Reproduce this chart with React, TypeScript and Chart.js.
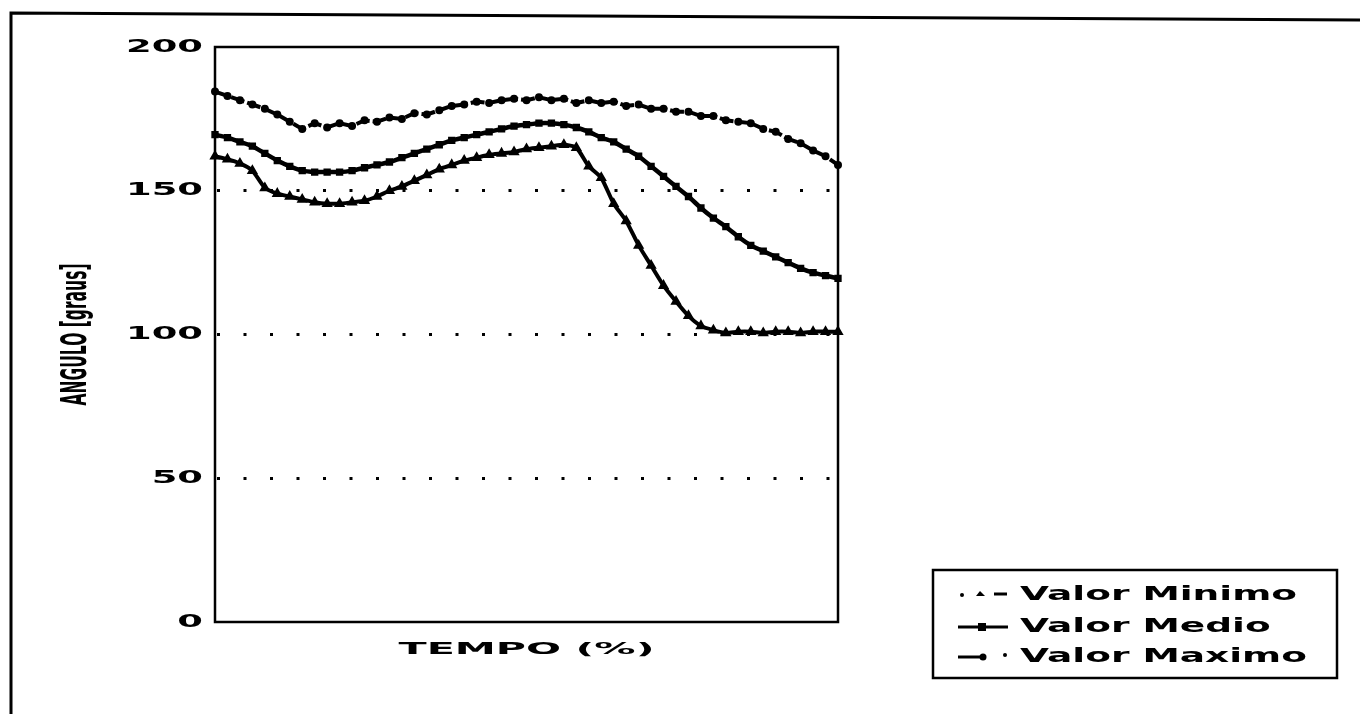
import React, { useEffect, useRef } from "react";
import { Chart, registerables } from "chart.js";

Chart.register(...registerables);

// ---- data ----
const TEMPO = [
  0, 2, 4, 6, 8, 10, 12, 14, 16, 18,
  20, 22, 24, 26, 28, 30, 32, 34, 36, 38,
  40, 42, 44, 46, 48, 50, 52, 54, 56, 58,
  60, 62, 64, 66, 68, 70, 72, 74, 76, 78,
  80, 82, 84, 86, 88, 90, 92, 94, 96, 98, 100,
];

const VALOR_MINIMO = [
  162, 161, 159.5, 157, 151, 149, 148, 147, 146, 145.5,
  145.5, 146, 146.5, 148, 150, 151.5, 153.5, 155.5, 157.5, 159,
  160.5, 161.5, 162.5, 163, 163.5, 164.5, 165, 165.5, 166, 165,
  158.5, 154.5, 145.5, 139.5, 131, 124, 117, 111.5, 106.5, 103,
  101.5, 100.5, 101, 101, 100.5, 101, 101, 100.5, 101, 101, 101,
];

const VALOR_MEDIO = [
  169.5, 168.5, 167, 165.5, 163, 160.5, 158.5, 157, 156.5, 156.5,
  156.5, 157, 158, 159, 160, 161.5, 163, 164.5, 166, 167.5,
  168.5, 169.5, 170.5, 171.5, 172.5, 173, 173.5, 173.5, 173, 172,
  170.5, 168.5, 167, 164.5, 162, 158.5, 155, 151.5, 148, 144,
  140.5, 137.5, 134, 131, 129, 127, 125, 123, 121.5, 120.5, 119.5,
];

const VALOR_MAXIMO = [
  184.5, 183, 181.5, 180, 178.5, 176.5, 174, 171.5, 173.5, 172,
  173.5, 172.5, 174.5, 174, 175.5, 175, 177, 176.5, 178, 179.5,
  180, 181, 180.5, 181.5, 182, 181.5, 182.5, 181.5, 182, 180.5,
  181.5, 180.5, 181, 179.5, 180, 178.5, 178.5, 177.5, 177.5, 176,
  176, 174.5, 174, 173.5, 171.5, 170.5, 168, 166.5, 164, 162, 159,
];

const Y_TICKS = [0, 50, 100, 150, 200];
const SERIES_LABELS = ["Valor Minimo", "Valor Medio", "Valor Maximo"];
const Y_TITLE = "ANGULO [graus]";
const X_TITLE = "TEMPO (%)";

function drawScaledText(
  ctx: CanvasRenderingContext2D,
  text: string,
  x: number,
  y: number,
  font: string,
  sx: number,
  align: CanvasTextAlign
) {
  ctx.save();
  ctx.font = font;
  ctx.textBaseline = "middle";
  ctx.textAlign = align;
  ctx.translate(x, y);
  ctx.scale(sx, 1);
  ctx.fillText(text, 0, 0);
  ctx.restore();
}

const decorPlugin = {
  id: "decor",
  afterDraw(chart: any) {
    const { ctx, chartArea: a, scales } = chart;
    const ys = scales.y;
    ctx.save();
    ctx.fillStyle = "#000";
    ctx.strokeStyle = "#000";

    // outer page frame
    ctx.lineWidth = 3;
    ctx.beginPath();
    ctx.moveTo(11, 714);
    ctx.lineTo(11, 13);
    ctx.lineTo(1360, 20);
    ctx.stroke();

    // plot box
    ctx.lineWidth = 2.5;
    ctx.strokeRect(a.left, a.top, a.right - a.left, a.bottom - a.top);

    // y tick labels (wide bold)
    for (const v of Y_TICKS) {
      const y = ys.getPixelForValue(v);
      drawScaledText(ctx, String(v), a.left - 12, y, 'bold 18px "DejaVu Sans"', 2.05, "right");
    }

    // y title (condensed, rotated)
    ctx.save();
    ctx.font = 'bold 36px "DejaVu Sans Condensed"';
    const wY = ctx.measureText(Y_TITLE).width;
    ctx.translate(77, (a.top + a.bottom) / 2);
    ctx.rotate(-Math.PI / 2);
    ctx.scale(142 / wY, 1);
    ctx.textAlign = "center";
    ctx.textBaseline = "middle";
    ctx.fillText(Y_TITLE, 0, 0);
    ctx.restore();

    // x title (wide bold)
    ctx.font = 'bold 15px "DejaVu Sans"';
    const wX = ctx.measureText(X_TITLE).width;
    drawScaledText(ctx, X_TITLE, (a.left + a.right) / 2, 650, 'bold 15px "DejaVu Sans"', 256 / wX, "center");

    // legend
    const lx = 933, ly = 570, lw = 404, lh = 108;
    ctx.lineWidth = 2.5;
    ctx.strokeRect(lx, ly, lw, lh);
    const rows = [595, 627, 657];
    ctx.font = 'bold 20px "DejaVu Sans"';
    const sxL = 277 / ctx.measureText(SERIES_LABELS[0]).width;
    const labels = chart.data.datasets.map((d: any) => d.label);
    labels.forEach((lab: string, i: number) => {
      const y = rows[i];
      ctx.lineWidth = 3;
      if (i === 0) {
        ctx.beginPath();
        ctx.arc(962, y, 2, 0, Math.PI * 2);
        ctx.fill();
        ctx.beginPath();
        ctx.moveTo(976, y + 1);
        ctx.lineTo(980, y - 4);
        ctx.lineTo(985, y + 1);
        ctx.closePath();
        ctx.fill();
        ctx.beginPath();
        ctx.moveTo(994, y - 1);
        ctx.lineTo(1007, y - 1);
        ctx.stroke();
      } else if (i === 1) {
        ctx.beginPath();
        ctx.moveTo(958, y);
        ctx.lineTo(1008, y);
        ctx.stroke();
        ctx.fillRect(978, y - 4, 8, 8);
      } else {
        ctx.beginPath();
        ctx.moveTo(958, y);
        ctx.lineTo(982, y);
        ctx.stroke();
        ctx.beginPath();
        ctx.arc(983, y, 3.5, 0, Math.PI * 2);
        ctx.fill();
        ctx.beginPath();
        ctx.arc(1005, y - 2, 2, 0, Math.PI * 2);
        ctx.fill();
      }
      drawScaledText(ctx, lab, 1020, y, 'bold 20px "DejaVu Sans"', sxL, "left");
    });

    ctx.restore();
  },
};

export default function App() {
  const canvasRef = useRef<HTMLCanvasElement | null>(null);

  useEffect(() => {
    if (!canvasRef.current) return;
    const chart = new Chart(canvasRef.current, {
      type: "line",
      data: {
        labels: TEMPO,
        datasets: [
          {
            label: SERIES_LABELS[0],
            data: VALOR_MINIMO,
            borderColor: "#000",
            backgroundColor: "#000",
            borderWidth: 4,
            pointStyle: "triangle",
            pointRadius: 2.5,
            pointBackgroundColor: "#000",
            pointBorderColor: "#000",
            tension: 0.2,
          },
          {
            label: SERIES_LABELS[1],
            data: VALOR_MEDIO,
            borderColor: "#000",
            backgroundColor: "#000",
            borderWidth: 4.5,
            pointStyle: "rect",
            pointRadius: 2,
            pointBackgroundColor: "#000",
            pointBorderColor: "#000",
            tension: 0.2,
          },
          {
            label: SERIES_LABELS[2],
            data: VALOR_MAXIMO,
            borderColor: "#000",
            backgroundColor: "#000",
            borderWidth: 4,
            borderDash: [14, 3],
            pointStyle: "circle",
            pointRadius: 2,
            pointBackgroundColor: "#000",
            pointBorderColor: "#000",
            tension: 0,
          },
        ],
      },
      options: {
        responsive: false,
        animation: false,
        devicePixelRatio: 1,
        layout: { padding: { left: 0, top: 47, right: 522, bottom: 0 } },
        plugins: {
          legend: { display: false },
          tooltip: { enabled: false },
          title: { display: false },
        },
        scales: {
          x: {
            type: "category",
            ticks: { display: false },
            grid: { display: false },
            border: { display: false },
            afterFit: (scale: any) => {
              scale.height = 92;
            },
          },
          y: {
            min: 0,
            max: 200,
            ticks: { display: false, stepSize: 50 },
            grid: {
              drawTicks: false,
              lineWidth: 3,
              color: (c: any) =>
                c.tick && (c.tick.value === 0 || c.tick.value === 200) ? "rgba(0,0,0,0)" : "#000",
            },
            border: { display: false, dash: [3, 23.5], dashOffset: -2 },
            afterFit: (scale: any) => {
              scale.width = 215;
            },
          },
        },
      },
      plugins: [decorPlugin],
    });
    return () => chart.destroy();
  }, []);

  return (
    <div
      style={{
        position: "absolute",
        left: 0,
        top: 0,
        width: 1360,
        height: 714,
        background: "#fff",
      }}
    >
      <canvas ref={canvasRef} width={1360} height={714} style={{ display: "block" }} />
    </div>
  );
}
